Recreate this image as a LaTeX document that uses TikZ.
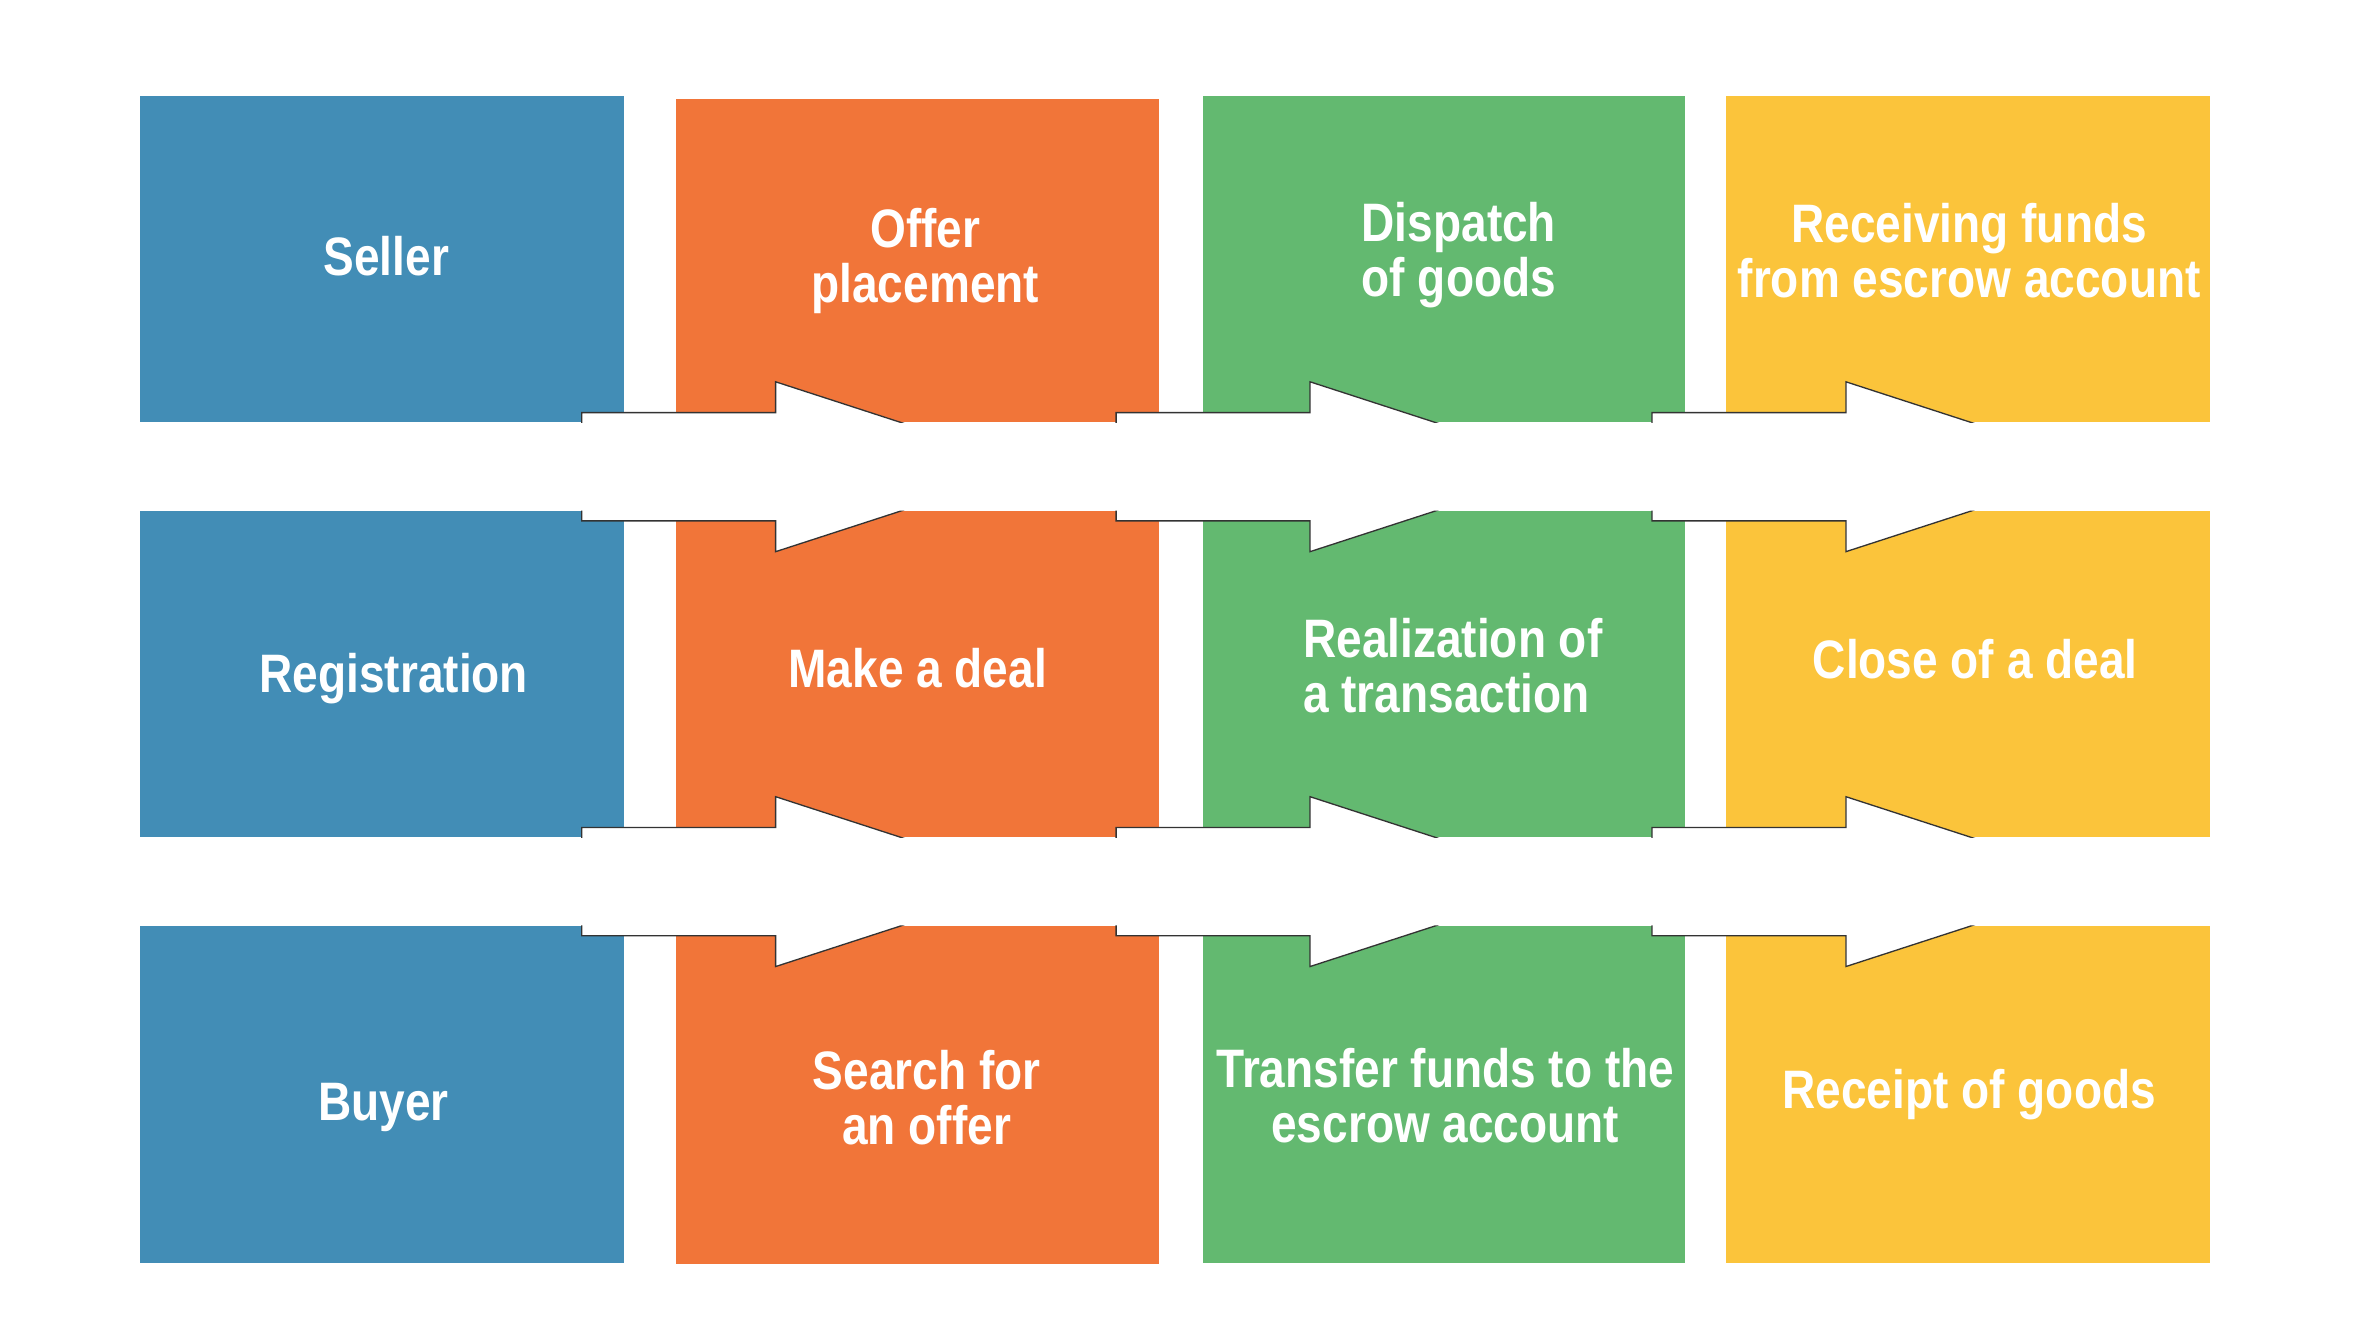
\documentclass[tikz,border=0pt]{standalone}
\usepackage{fontspec}
\newfontfamily\boxfont{Liberation Sans}[FakeStretch=0.85]
\usetikzlibrary{calc}
\definecolor{sellerblue}{RGB}{66,141,182}
\definecolor{offerorange}{RGB}{241,117,57}
\definecolor{goodsgreen}{RGB}{99,185,112}
\definecolor{fundsyellow}{RGB}{251,196,59}
\definecolor{arrowline}{RGB}{51,51,51}
\tikzset{
  block/.style={
    draw=none,
    inner sep=0pt,
    minimum width=64.4mm
  },
  rowtop/.style={block, minimum height=43.4mm},
  rowmid/.style={block, minimum height=43.4mm},
  rowlow/.style={block, minimum height=44.8mm},
  caption/.style={
    align=center,
    inner sep=0pt,
    text=white,
    font=\boxfont\bfseries\fontsize{20.5}{20.8}\selectfont
  },
  flowbody/.style={fill=white, draw=arrowline, line width=0.5pt, line join=miter},
  flowarrow/.pic={
    \path[flowbody] (0,-36) -- (129,-36) -- (129,-56.5) -- (303,0)
      -- (129,56.5) -- (129,36) -- (0,36) -- cycle;
  }
}

\begin{document}
\begin{tikzpicture}[x=0.2mm,y=-0.2mm]
    \useasboundingbox (0,0) rectangle (1568,882);

    % seller row
    \node[rowtop, fill=sellerblue] (seller) at (254,172.5) {};
    \node[rowtop, fill=offerorange, minimum width=64.2mm, minimum height=43mm] (offer) at (610.5,173.5) {};
    \node[rowtop, fill=goodsgreen, minimum width=64.2mm] (dispatch) at (960.5,172.5) {};
    \node[rowtop, fill=fundsyellow] (funds) at (1309,172.5) {};

    % deal row
    \node[rowmid, fill=sellerblue] (registration) at (254,448.5) {};
    \node[rowmid, fill=offerorange, minimum width=64.2mm] (deal) at (610.5,448.5) {};
    \node[rowmid, fill=goodsgreen, minimum width=64.2mm] (realize) at (960.5,448.5) {};
    \node[rowmid, fill=fundsyellow] (close) at (1309,448.5) {};

    % buyer row
    \node[rowlow, fill=sellerblue] (buyer) at (254,728) {};
    \node[rowlow, fill=offerorange, minimum width=64.2mm, minimum height=45mm] (search) at (610.5,728.5) {};
    \node[rowlow, fill=goodsgreen, minimum width=64.2mm] (transfer) at (960.5,728) {};
    \node[rowlow, fill=fundsyellow] (receipt) at (1309,728) {};

    % block arrows, only seen over the boxes
    \begin{scope}
      \clip (seller.north west) rectangle (funds.south east)
            (registration.north west) rectangle (close.south east)
            (buyer.north west) rectangle (receipt.south east);
      \foreach \ay in {310.5,586.5}
        \foreach \ax in {387,742.5,1099}
          \pic at (\ax,\ay) {flowarrow};
    \end{scope}

    % texts
    \node[caption] (seller-txt) at (257,170.5) {Seller};
    \node[caption] (offer-txt) at (615.5,173.5) {Offer\\placement};
    \node[caption] (dispatch-txt) at (970.5,170) {Dispatch\\of goods};
    \node[caption] (funds-txt) at (1310,166.5) {Receiving funds\\from escrow account};
    \node[caption] (registration-txt) at (262,451.5) {Registration};
    \node[caption] (deal-txt) at (610.5,444.5) {Make a deal};
    \node[caption, align=left] (realize-txt) at (966.5,443) {Realization of\\a transaction};
    \node[caption] (close-txt) at (1314,438.5) {Close of a deal};
    \node[caption] (buyer-txt) at (255,737) {Buyer};
    \node[caption] (search-txt) at (616.5,730.5) {Search for\\an offer};
    \node[caption] (transfer-txt) at (961.5,729) {Transfer funds to the\\escrow account};
    \node[caption] (receipt-txt) at (1310,728) {Receipt of goods};
\end{tikzpicture}
\end{document}
